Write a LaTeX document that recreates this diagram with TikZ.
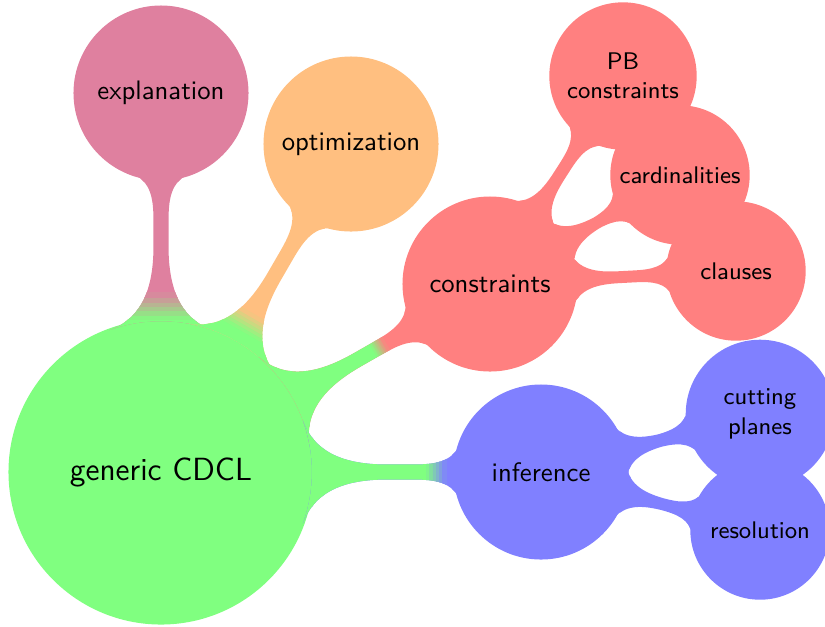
\documentclass[tikz,border=0pt]{standalone}
\usetikzlibrary{mindmap}
\newcommand\shbar[7]{%
  \colorlet{barA}{#6}\colorlet{barB}{#7}%
  \path (#1) to[circle connection bar switch color=from (barB) to (barB)] (#2);
  \begin{scope}
    \clip[shift={(#1)}, rotate=#3] (-400,-400) rectangle ({#4+0.5},400);
    \path (#1) to[circle connection bar switch color=from (barA) to (barA)] (#2);
  \end{scope}
  \foreach \k in {0,...,5} {
    \pgfmathtruncatemacro\pc{100-(\k+0.5)*100/6}
    \colorlet{barM}{barA!\pc!barB}
    \begin{scope}
      \clip[shift={(#1)}, rotate=#3] ({#4+\k*#5/6-0.5},-400) rectangle ({#4+(\k+1)*#5/6+0.5},400);
      \path (#1) to[circle connection bar switch color=from (barM) to (barM)] (#2);
    \end{scope}
  }
}
\begin{document}
\begin{tikzpicture}[mindmap, x=0.0131579cm, y=-0.0131579cm,
  rootc/.style={concept, concept color=green!50, minimum size=3.97cm, text width=3.5cm, font=\sffamily\large},
  lvone/.style={concept, minimum size=2.26cm, text width=2cm, font=\sffamily},
  lvtwo/.style={concept, minimum size=1.76cm, text width=1.7cm, font=\sffamily\small},
  samebar/.style={circle connection bar switch color=from (#1) to (#1)},
]
\useasboundingbox (0,0) rectangle (825,626);
\node[rootc] (root) at (161,472) {generic CDCL};
\node[lvone, concept color=purple!50] (expl) at (161,93) {explanation};
\node[lvone, concept color=orange!50] (opt) at (351,144) {optimization};
\node[lvone, concept color=red!50] (cons) at (490,284) {constraints};
\node[lvone, concept color=blue!50] (inf) at (541,472) {inference};
\node[lvtwo, concept color=red!50] (pb) at (623,76) {PB\\constraints};
\node[lvtwo, concept color=red!50] (card) at (680,175) {cardinalities};
\node[lvtwo, concept color=red!50] (cl) at (736,271) {clauses};
\node[lvtwo, concept color=blue!50] (cut) at (760,414) {cutting planes};
\node[lvtwo, concept color=blue!50] (res) at (760,530) {resolution};
\shbar{root}{expl}{90}{153}{26}{green!50}{purple!50}
\shbar{root}{opt}{60}{163}{20}{green!50}{orange!50}
\shbar{root}{cons}{30}{245}{14}{green!50}{red!50}
\shbar{root}{inf}{0}{266}{19}{green!50}{blue!50}
\path (cons) to[samebar=red!50] (pb);
\path (cons) to[samebar=red!50] (card);
\path (cons) to[samebar=red!50] (cl);
\path (inf) to[samebar=blue!50] (cut);
\path (inf) to[samebar=blue!50] (res);
\end{tikzpicture}
\end{document}
